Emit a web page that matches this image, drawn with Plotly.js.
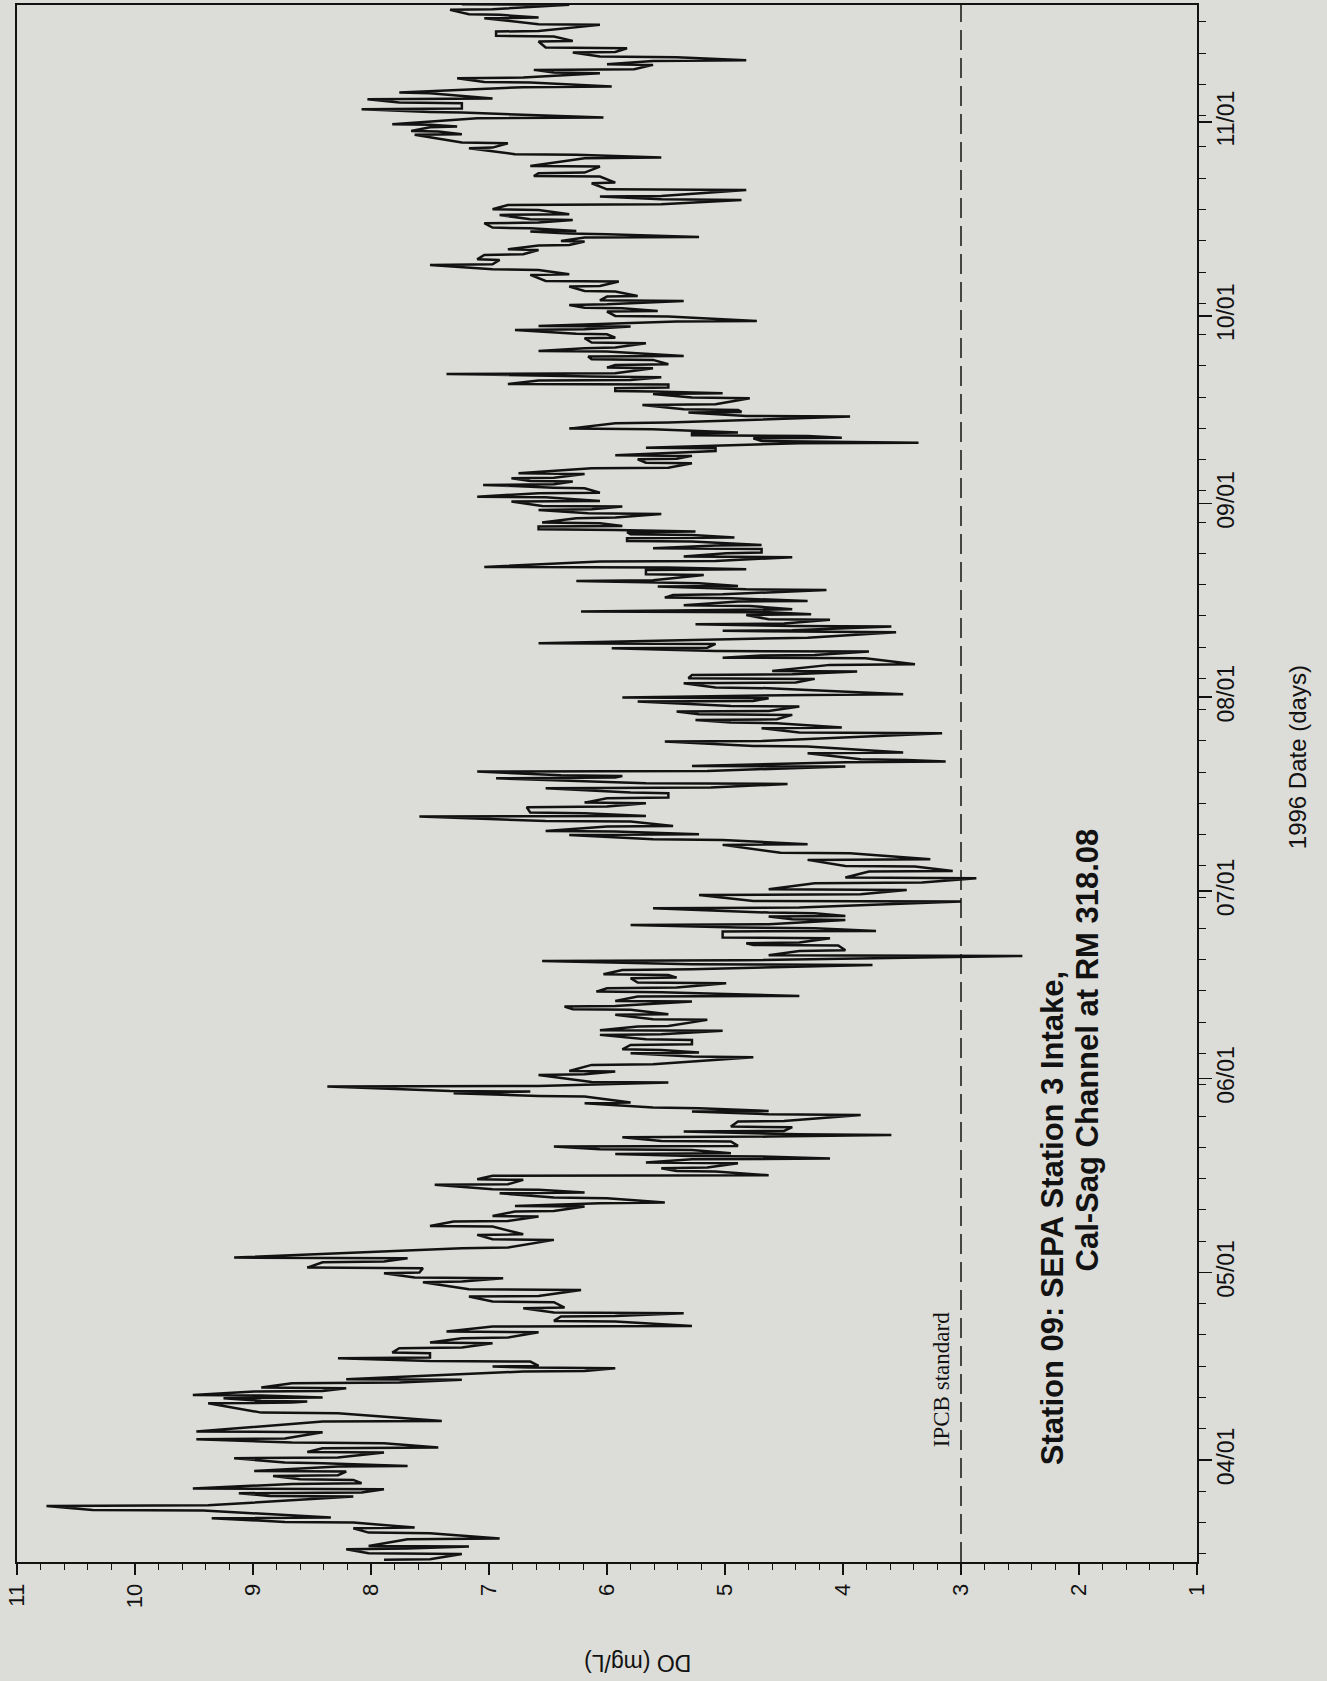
<!DOCTYPE html>
<html>
<head>
<meta charset="utf-8">
<script src="https://cdn.plot.ly/plotly-3.0.1.min.js"></script>
<style>
  html, body { margin: 0; padding: 0; background: #dcddd8; }
  #chart { width: 1327px; height: 1681px; }
</style>
</head>
<body>
<div id="chart"></div>
<script>
// ---- Data ----
// days measured from 1996-04-01 00:00 (negative = March); each row holds the
// high and low DO readings (mg/L) seen around that time.
const days = [
  -15.99,-15.04,-14.29,-13.86,-12.69,-11.73,-10.93,-10.02,-9.33,-8.10,-7.36,-5.86,-5.33,-4.69,-3.84,-3.20,-2.56,-1.87,-1.07,-0.53,0.27,1.17,1.87,2.67,3.31,4.43,6.13,7.46,9.06,
  9.33,9.86,10.29,10.93,11.46,12.26,12.80,14.13,14.66,14.93,15.73,16.26,17.06,17.86,18.66,19.46,20.42,21.33,22.13,22.93,23.46,24.26,25.22,26.12,27.19,28.42,29.06,29.86,30.66,31.62,32.26,33.86,35.19,35.99,37.32,
  38.12,38.92,39.72,40.52,41.05,41.85,42.65,43.19,43.99,44.79,45.43,46.12,46.65,47.45,48.09,48.52,48.94,49.58,50.12,50.92,51.61,51.98,52.52,53.21,54.12,55.18,55.72,56.25,57.05,58.11,58.65,58.91,59.71,60.35,61.58,62.11,63.18,64.41,65.05,
  65.58,66.38,67.18,67.98,68.62,69.31,70.38,71.18,71.98,72.51,73.31,74.11,74.80,75.44,76.24,77.04,77.57,78.37,79.17,79.81,80.61,81.41,82.27,82.64,83.44,84.51,85.04,85.57,86.37,86.91,87.44,88.24,89.30,90.37,91.17,92.24,93.04,
  94.10,94.90,95.97,97.03,98.37,99.17,99.97,100.50,101.30,102.10,102.90,103.43,104.39,105.03,105.83,106.63,107.43,108.12,109.03,109.40,110.10,110.90,111.59,111.96,113.03,114.10,114.90,116.23,117.03,117.83,118.36,119.16,119.70,120.49,121.29,
  121.83,122.36,123.43,124.23,124.92,125.56,126.09,127.16,128.22,128.65,129.29,129.82,130.52,131.42,132.38,132.60,133.29,133.66,134.36,135.15,135.58,135.95,136.59,137.29,137.82,138.35,139.15,139.69,140.22,140.59,141.55,142.35,142.73,143.69,144.38,145.02,145.71,146.24,146.88,147.42,147.95,148.38,148.75,149.28,
  149.82,150.62,151.31,151.95,152.48,153.28,153.97,154.61,155.41,155.95,156.48,157.01,157.71,158.61,159.41,160.05,160.59,161.28,161.81,162.61,162.88,163.41,163.78,164.21,164.85,165.81,166.88,167.52,167.94,168.74,169.81,170.50,170.88,171.41,171.99,172.63,173.17,173.70,174.61,175.14,175.94,176.47,177.27,
  177.81,178.61,179.40,180.04,180.74,181.27,182.07,182.87,183.67,184.20,184.74,185.38,186.07,186.87,187.67,188.47,189.54,190.34,191.14,191.93,192.73,193.53,194.23,194.87,195.51,196.04,196.47,197.00,197.80,198.33,199.13,199.93,200.73,201.53,202.06,203.13,204.20,205.26,
  205.81,206.87,208.20,208.74,209.80,210.60,211.94,212.47,213.16,213.54,214.60,215.51,216.04,217.00,217.64,218.60,219.56,220.31,221.00,221.80,222.33,223.13,223.77,224.36,225.11,225.80,226.87,227.67,228.46,229.53,230.60,231.13,231.93,232.73
];
const doHigh = [
  7.89,8.02,8.21,8.02,7.69,8.02,8.15,8.73,9.35,10.36,10.75,8.86,9.12,9.51,8.67,8.60,8.83,8.99,8.28,8.73,9.16,8.54,8.41,8.67,9.48,9.48,8.41,8.93,9.38,
  8.93,9.25,9.51,8.99,8.93,8.67,8.21,6.71,6.65,6.97,7.50,8.28,7.82,7.76,7.50,7.23,7.36,6.97,6.45,6.39,6.45,6.71,6.97,7.17,7.17,7.56,7.63,7.89,8.54,8.41,9.16,7.23,6.97,7.10,7.50,
  7.30,6.97,6.78,6.78,6.06,6.45,6.91,6.97,7.46,7.10,6.97,5.41,5.54,5.67,5.28,5.28,5.93,6.06,6.45,5.54,5.87,4.37,5.35,4.95,4.89,4.63,5.28,5.61,6.19,6.58,7.30,7.33,8.37,6.13,6.58,6.32,6.13,5.28,5.80,
  5.87,5.80,5.67,6.06,6.06,5.74,5.61,5.93,6.29,6.36,5.93,5.74,6.09,6.00,5.74,5.80,6.03,5.87,5.28,6.55,4.63,4.37,4.76,4.82,5.02,5.02,4.89,5.80,4.43,4.63,4.63,5.61,4.76,5.22,4.63,4.24,3.98,
  3.78,3.98,4.30,4.53,5.02,5.61,6.32,6.52,6.00,6.52,7.59,6.65,6.68,6.19,6.00,5.80,6.52,5.67,6.94,6.39,7.10,5.28,3.98,3.85,4.30,4.76,5.51,4.37,4.69,4.95,5.25,5.22,5.41,4.95,5.74,
  5.87,4.30,5.08,5.35,5.31,5.28,4.60,4.11,5.02,4.69,5.08,5.96,6.58,4.69,4.24,5.02,4.43,5.25,4.63,4.82,6.22,4.69,5.35,4.89,5.51,5.44,4.82,5.57,5.61,6.26,5.67,5.67,7.04,6.06,5.35,4.99,5.61,5.08,5.83,5.83,5.80,5.83,6.58,6.58,
  6.55,6.26,6.16,6.58,6.55,6.81,7.10,6.58,6.45,7.05,6.65,6.81,6.75,6.13,5.67,5.74,5.93,5.28,5.67,4.37,4.69,4.76,5.28,5.28,6.32,5.93,4.82,5.31,5.35,5.70,5.28,5.61,5.93,5.93,6.84,6.58,6.13,7.36,6.00,5.93,6.13,6.16,6.58,
  6.19,6.13,6.19,6.26,6.78,6.58,5.41,5.93,6.00,6.19,6.32,6.06,6.00,6.19,6.32,6.52,6.65,6.97,7.50,7.10,7.04,6.84,6.58,6.39,6.19,6.32,6.65,6.97,7.04,6.65,6.91,6.97,6.84,5.54,6.06,6.00,6.13,6.62,
  6.58,6.65,6.19,6.78,7.17,7.23,7.63,7.66,7.50,7.82,7.10,7.50,8.08,7.76,8.03,7.76,6.71,7.04,7.27,6.45,6.62,6.00,5.61,6.06,6.29,6.52,6.58,6.94,6.94,6.58,7.04,7.17,7.33,7.23
];
const doLow = [
  7.50,7.23,7.69,7.17,6.91,7.50,7.63,8.15,8.34,9.42,9.38,8.15,8.08,7.89,8.08,8.15,8.28,8.21,7.69,8.41,8.28,7.89,7.43,7.89,8.73,8.41,7.40,8.28,8.67,
  8.54,8.41,8.93,8.41,8.21,7.76,7.23,6.19,5.93,6.58,6.65,7.50,7.50,7.23,6.97,6.84,6.58,5.28,5.93,5.93,5.35,6.36,6.45,6.58,6.22,7.23,6.88,7.59,7.56,7.89,7.69,6.84,6.45,6.71,6.97,
  6.84,6.58,6.45,6.19,5.51,6.00,6.19,6.58,6.84,6.71,4.63,5.08,5.15,4.89,4.11,4.69,4.95,5.28,4.89,4.95,4.63,3.59,4.50,4.43,4.50,3.85,4.63,5.22,5.80,6.19,6.91,6.65,6.58,5.48,6.19,5.93,5.61,4.76,5.22,
  5.54,5.28,5.28,5.54,5.02,5.48,5.15,5.48,5.80,5.93,5.28,4.37,5.54,5.41,4.99,5.41,5.48,5.28,3.75,4.89,2.48,3.98,4.04,4.37,4.11,3.72,4.24,4.63,3.98,3.98,4.24,4.37,3.00,3.85,3.46,3.33,2.87,
  3.07,3.39,3.26,3.94,4.30,5.02,5.22,5.93,5.44,5.80,5.67,6.19,6.00,5.67,5.48,5.48,5.12,4.47,5.93,5.87,5.15,3.98,3.13,3.46,3.49,4.30,4.69,3.16,4.01,4.56,4.56,4.43,4.63,4.37,4.76,
  4.63,3.49,4.63,4.40,4.24,4.43,3.88,3.39,3.81,4.24,3.78,5.15,5.08,4.30,3.55,4.43,3.59,4.50,4.11,4.27,4.63,4.43,4.79,4.30,4.95,5.02,4.14,4.89,5.22,5.61,5.18,4.82,5.48,5.08,4.43,4.69,4.69,4.69,5.28,4.92,5.28,5.25,5.93,5.87,
  6.06,5.93,5.54,6.13,5.87,6.06,6.52,6.06,6.19,6.45,6.29,6.45,6.19,5.48,5.28,5.41,5.28,5.08,5.08,3.36,4.30,4.01,4.30,4.89,5.61,5.48,3.94,4.86,4.89,5.08,4.79,5.02,5.61,5.48,5.48,5.80,5.54,5.93,5.61,5.48,5.61,5.35,6.00,
  5.93,5.67,5.93,6.00,6.19,5.80,4.73,5.48,5.57,5.87,6.00,5.35,5.74,5.93,6.06,5.90,6.32,6.58,6.97,6.91,6.71,6.58,6.32,6.19,5.22,6.00,6.26,6.65,6.58,6.29,6.32,6.58,5.54,4.86,5.54,4.82,5.93,6.06,
  6.19,6.06,5.54,6.26,6.97,6.84,7.23,7.43,7.27,7.50,6.03,7.23,7.23,7.23,6.97,7.50,5.96,6.65,6.71,6.06,5.77,5.61,4.82,5.41,5.93,5.83,6.29,6.45,6.58,6.06,6.58,6.91,6.97,6.32
];

// Axis ticks and labels
const doTickValues = [1, 2, 3, 4, 5, 6, 7, 8, 9, 10, 11];
const monthTickDates = ['1996-04-01','1996-05-01','1996-06-01','1996-07-01','1996-08-01','1996-09-01','1996-10-01','1996-11-01'];
const monthTickLabels = ['04/01','05/01','06/01','07/01','08/01','09/01','10/01','11/01'];
const ipcbStandard = 3;

// ---- Build the trace ----
const base = Date.UTC(1996, 3, 1);
function toDateStr(d) {
  return new Date(base + d * 86400000).toISOString().slice(0, 19).replace('T', ' ');
}
const xs = [], ys = [];
for (let i = 0; i < days.length; i++) {
  const first = (i % 2 === 0) ? doHigh[i] : doLow[i];
  const second = (i % 2 === 0) ? doLow[i] : doHigh[i];
  xs.push(first, second);
  ys.push(toDateStr(days[i]), toDateStr(days[i] + 0.1));
}

const bg = '#dcddd8';
const ink = '#121212';
const sans = 'Liberation Sans, Arial, sans-serif';

const trace = {
  type: 'scatter', mode: 'lines',
  x: xs, y: ys,
  line: { color: ink, width: 2.5 },
  hoverinfo: 'skip'
};

const layout = {
  width: 1327, height: 1681,
  margin: { l: 17, r: 130, t: 5, b: 119, pad: 0 },
  paper_bgcolor: bg, plot_bgcolor: bg,
  showlegend: false,
  font: { family: sans, color: ink },
  xaxis: {
    range: [11, 1],
    tickmode: 'array', tickvals: doTickValues, ticktext: doTickValues.map(String),
    tickangle: -90,
    ticks: 'outside', ticklen: 11, tickwidth: 1.5, tickcolor: ink,
    minor: { tickmode: 'linear', tick0: 0, dtick: 0.2, ticks: 'outside', ticklen: 6, tickwidth: 1, tickcolor: ink, showgrid: false },
    showline: true, linecolor: ink, linewidth: 2, mirror: true,
    showgrid: false, zeroline: false,
    tickfont: { family: sans, size: 22, color: ink }
  },
  yaxis: {
    type: 'date', side: 'right',
    range: ['1996-03-15 16:00', '1996-11-19 17:00'],
    tickmode: 'array', tickvals: monthTickDates, ticktext: monthTickLabels,
    tickangle: -90,
    ticks: 'outside', ticklen: 13, tickwidth: 1.5, tickcolor: ink,
    ticklabelstandoff: -6,
    minor: { tickmode: 'linear', tick0: '1996-04-01', dtick: 5 * 86400000, ticks: 'outside', ticklen: 7, tickwidth: 1, tickcolor: ink, showgrid: false },
    showline: true, linecolor: ink, linewidth: 2, mirror: true,
    showgrid: false, zeroline: false,
    tickfont: { family: sans, size: 23, color: ink }
  },
  shapes: [{
    type: 'line', xref: 'x', yref: 'paper',
    x0: ipcbStandard, x1: ipcbStandard, y0: 0, y1: 1,
    line: { color: ink, width: 1.5, dash: '20px,8px' }
  }],
  annotations: [
    { text: 'IPCB standard', xref: 'x', yref: 'y', x: 3.17, y: toDateStr(12.9),
      textangle: -90, showarrow: false, xanchor: 'center', yanchor: 'middle',
      font: { family: 'Liberation Serif, Times New Roman, serif', size: 23, color: ink } },
    { text: '<b>Station 09: SEPA Station 3 Intake,</b>', xref: 'paper', yref: 'paper',
      x: 0.8778, y: 0.2207, textangle: -90, showarrow: false, xanchor: 'center', yanchor: 'middle',
      font: { family: sans, size: 31, color: ink } },
    { text: '<b>Cal-Sag Channel at RM 318.08</b>', xref: 'paper', yref: 'paper',
      x: 0.9075, y: 0.3291, textangle: -90, showarrow: false, xanchor: 'center', yanchor: 'middle',
      font: { family: sans, size: 31, color: ink } },
    { text: '1996 Date (days)', xref: 'paper', yref: 'paper',
      x: 1.0849, y: 0.517, textangle: -90, showarrow: false, xanchor: 'center', yanchor: 'middle',
      font: { family: sans, size: 24, color: ink } },
    { text: 'DO (mg/L)', xref: 'paper', yref: 'paper',
      x: 0.526, y: -0.0648, textangle: 180, showarrow: false, xanchor: 'center', yanchor: 'middle',
      font: { family: sans, size: 23, color: ink } }
  ]
};

Plotly.newPlot('chart', [trace], layout, { staticPlot: true, displayModeBar: false });
</script>
</body>
</html>
